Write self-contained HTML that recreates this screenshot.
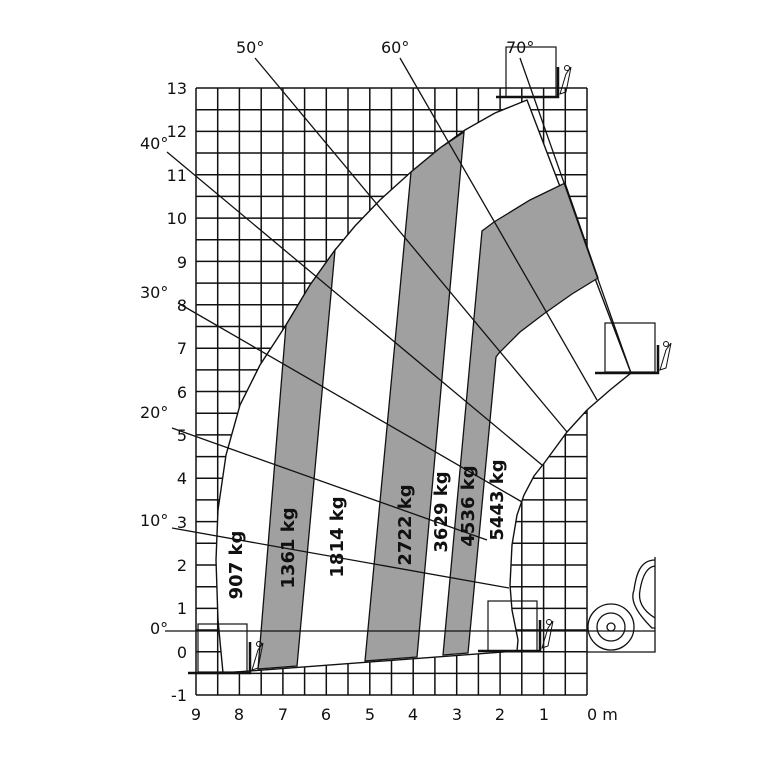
<!DOCTYPE html>
<html><head><meta charset="utf-8"><style>
html,body{margin:0;padding:0;background:#fff;}
svg{display:block;}
text{font-family:"DejaVu Sans","Liberation Sans",sans-serif;fill:#111;}
.ax{font-size:16px;}
.kg{font-size:18px;font-weight:bold;}
</style></head><body>
<svg width="768" height="768" viewBox="0 0 768 768" xmlns="http://www.w3.org/2000/svg">
<g stroke="#111" stroke-width="1.5" fill="none">
<path d="M196,88V695M217.7,88V695M239.4,88V695M261.2,88V695M282.9,88V695M304.6,88V695M326.3,88V695M348,88V695M369.8,88V695M391.5,88V695M413.2,88V695M434.9,88V695M456.7,88V695M478.4,88V695M500.1,88V695M521.8,88V695M543.6,88V695M565.3,88V695M587,88V695"/>
<path d="M196,88H587M196,109.7H587M196,131.4H587M196,153H587M196,174.7H587M196,196.4H587M196,218.1H587M196,239.8H587M196,261.4H587M196,283.1H587M196,304.8H587M196,326.5H587M196,348.2H587M196,369.9H587M196,391.5H587M196,413.2H587M196,434.9H587M196,456.6H587M196,478.3H587M196,499.9H587M196,521.6H587M196,543.3H587M196,565H587M196,586.7H587M196,608.4H587M196,630H587M196,651.7H587M196,673.4H587M196,695H587"/>
</g>
<path d="M223,673 L517,651 L518,640 L512,610 L510,585 L512,545 L517,515 L524,495 L534,476 L545,462 L567,432 L587,410 L610,390 L631,373 L527,100 L495,113 L465,130 L440,148 L411,172 L380,200 L355,226 L335,250 L310,285 L286,325 L260,365 L240,405 L226,455 L218,510 L216,560 L218,620 Z" fill="#fff" stroke="#111" stroke-width="1.4"/>
<g fill="#a0a0a0" stroke="#111" stroke-width="1.3">
<path d="M258,669 L297,666 L335,250 L310,285 L286,325 Z"/>
<path d="M365,661 L417,657 L464,132 L440,148 L411,172 Z"/>
<path d="M443,655 L468,653 L496,357 L499,353 L520,332 L545,313 L572,294 L598,278 L565,183 L530,200 L494,222 L482,231 Z"/>
</g>
<g stroke="#111" stroke-width="1.3" fill="none">
<line x1="165" y1="631" x2="655" y2="631"/>
<line x1="172" y1="528" x2="509" y2="588"/>
<line x1="172" y1="428" x2="487" y2="540"/>
<line x1="178" y1="303" x2="522" y2="502"/>
<line x1="167" y1="152" x2="542" y2="465"/>
<line x1="255" y1="58" x2="567" y2="432"/>
<line x1="400" y1="58" x2="597" y2="400"/>
<line x1="520" y1="58" x2="631" y2="373"/>
</g>
<g stroke="#111" fill="none">
<rect x="198" y="624" width="49" height="48" stroke-width="1.2"/>
<rect x="488" y="601" width="49" height="50" stroke-width="1.2"/>
<rect x="605" y="323" width="50" height="49" stroke-width="1.2"/>
<rect x="506" y="47" width="50" height="50" stroke-width="1.2"/>
<path d="M188,673H250V642" stroke-width="2.5"/>
<path d="M478,651H540V620" stroke-width="2.5"/>
<path d="M595,373H658V345" stroke-width="2.5"/>
<path d="M496,97H558V67" stroke-width="2.5"/>
<path d="M252,670 L258,650 L263,643 L258,668Z M542,648 L548,628 L553,621 L548,646Z M660,370 L666,350 L671,343 L666,368Z M560,94 L566,74 L571,67 L566,92Z" stroke-width="1"/>
<circle cx="259" cy="644" r="2.5" stroke-width="1"/><circle cx="549" cy="622" r="2.5" stroke-width="1"/>
<circle cx="666" cy="344" r="2.5" stroke-width="1"/><circle cx="567" cy="68" r="2.5" stroke-width="1"/>
</g>
<g stroke="#111" stroke-width="1.3" fill="none">
<path d="M587,652H655V557"/>
<circle cx="611" cy="627" r="23"/><circle cx="611" cy="627" r="14"/><circle cx="611" cy="627" r="4"/>
<path d="M655,560 C640,560 636,575 634,590 C630,600 636,612 652,628 L655,628"/>
<path d="M655,566 C646,567 642,578 640,590 C638,600 642,610 655,618"/>
</g>
<g class="ax" text-anchor="end">
<text x="187" y="94">13</text><text x="187" y="137">12</text><text x="187" y="181">11</text><text x="187" y="224">10</text>
<text x="187" y="268">9</text><text x="187" y="311">8</text><text x="187" y="354">7</text><text x="187" y="398">6</text>
<text x="187" y="441">5</text><text x="187" y="484">4</text><text x="187" y="528">3</text><text x="187" y="571">2</text>
<text x="187" y="614">1</text><text x="187" y="658">0</text><text x="187" y="701">-1</text>
</g>
<g class="ax" text-anchor="middle">
<text x="196" y="720">9</text><text x="239" y="720">8</text><text x="283" y="720">7</text><text x="326" y="720">6</text>
<text x="370" y="720">5</text><text x="413" y="720">4</text><text x="457" y="720">3</text><text x="500" y="720">2</text>
<text x="544" y="720">1</text>
</g>
<text class="ax" x="587" y="720">0 m</text>
<g class="ax">
<text x="236" y="53">50°</text><text x="381" y="53">60°</text><text x="506" y="53">70°</text>
<text x="140" y="149">40°</text><text x="140" y="298">30°</text><text x="140" y="418">20°</text>
<text x="140" y="526">10°</text><text x="150" y="634">0°</text>
</g>
<g class="kg" text-anchor="middle">
<text transform="translate(242,565) rotate(-90)">907 kg</text>
<text transform="translate(294,548) rotate(-90)">1361 kg</text>
<text transform="translate(343,537) rotate(-90)">1814 kg</text>
<text transform="translate(411,525) rotate(-90)">2722 kg</text>
<text transform="translate(447,512) rotate(-90)">3629 kg</text>
<text transform="translate(474,506) rotate(-90)">4536 kg</text>
<text transform="translate(503,500) rotate(-90)">5443 kg</text>
</g>
</svg>
</body></html>
